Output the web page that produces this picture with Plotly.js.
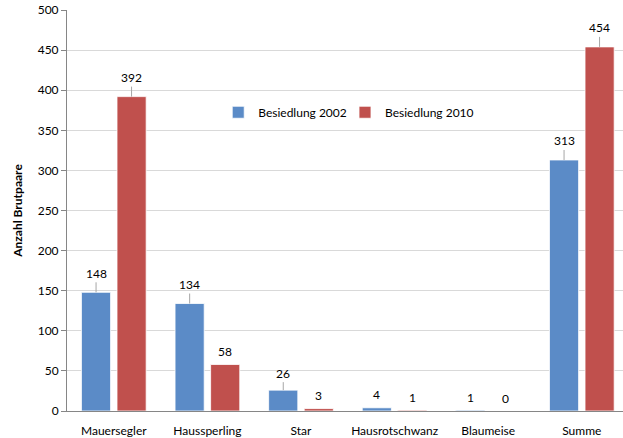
<!DOCTYPE html>
<html><head><meta charset="utf-8">
<script src="https://cdn.plot.ly/plotly-3.0.1.min.js"></script>
<style>html,body{margin:0;padding:0;background:#fff;overflow:hidden}</style>
</head><body>
<div id="chart" style="width:623px;height:438px"></div>
<script>
const categories = ["Mauersegler", "Haussperling", "Star", "Hausrotschwanz", "Blaumeise", "Summe"];
const values2002 = [148, 134, 26, 4, 1, 313];
const values2010 = [392, 58, 3, 1, 0, 454];
const seriesNames = ["Besiedlung 2002", "Besiedlung 2010"];
const yTicks = [0, 50, 100, 150, 200, 250, 300, 350, 400, 450, 500];

const blue = "#5B8BC7", red = "#C0504D";
const font = "Lato, 'Open Sans', sans-serif";

const traces = [
  {type: "bar", name: seriesNames[0], x: categories, y: values2002, legend: "legend",
   marker: {color: blue, line: {color: "rgba(255,255,255,0.8)", width: 1}}, hoverinfo: "none"},
  {type: "bar", name: seriesNames[1], x: categories, y: values2010, legend: "legend2",
   marker: {color: red, line: {color: "rgba(255,255,255,0.8)", width: 1}}, hoverinfo: "none"}
];

const annotations = [];
[values2002, values2010].forEach((vals, si) => {
  vals.forEach((v, i) => {
    const big = v >= 100 || (v >= 20 && v < 50);
    annotations.push({
      x: categories[i], y: v, xref: "x", yref: "y",
      xshift: si === 0 ? -17.75 : 17.75,
      text: String(v), font: {family: font, size: 12, color: "#000"},
      showarrow: big, arrowhead: 0, arrowwidth: 1, arrowcolor: "#A6A6A6",
      ax: 0, ay: v < 50 ? -17 : -19, yshift: big ? 0 : 13, yanchor: "middle"
    });
  });
});

const legendBase = {orientation: "h", y: 0.745, xanchor: "left", yanchor: "middle",
  font: {family: font, size: 12}, itemwidth: 30, bgcolor: "rgba(0,0,0,0)"};

const layout = {
  width: 623, height: 438,
  margin: {l: 67, r: 0, t: 10, b: 26.5},
  paper_bgcolor: "#fff", plot_bgcolor: "#fff",
  font: {family: font, size: 12, color: "#000"},
  barmode: "group", bargap: 0.24, bargroupgap: 0.18,
  showlegend: true,
  legend: Object.assign({}, legendBase, {x: 0.272}),
  legend2: Object.assign({}, legendBase, {x: 0.5}),
  xaxis: {range: [-0.5, 5.44], showgrid: false, showline: true, linecolor: "#868686", linewidth: 1,
          ticks: "", ticklabelstandoff: 9, tickfont: {family: font, size: 12}, fixedrange: true},
  yaxis: {range: [0, 500], tickvals: yTicks, ticktext: yTicks.map(String), showgrid: true, gridcolor: "#D9D9D9",
          showline: true, linecolor: "#868686", linewidth: 1, ticks: "outside", ticklen: 5, tickcolor: "#868686",
          zeroline: false, tickfont: {family: font, size: 12},
          title: {text: "<b>Anzahl Brutpaare</b>", font: {family: font, size: 12}, standoff: 12}},
  annotations: annotations
};

Plotly.newPlot("chart", traces, layout, {displayModeBar: false, staticPlot: true});
</script>
</body></html>
